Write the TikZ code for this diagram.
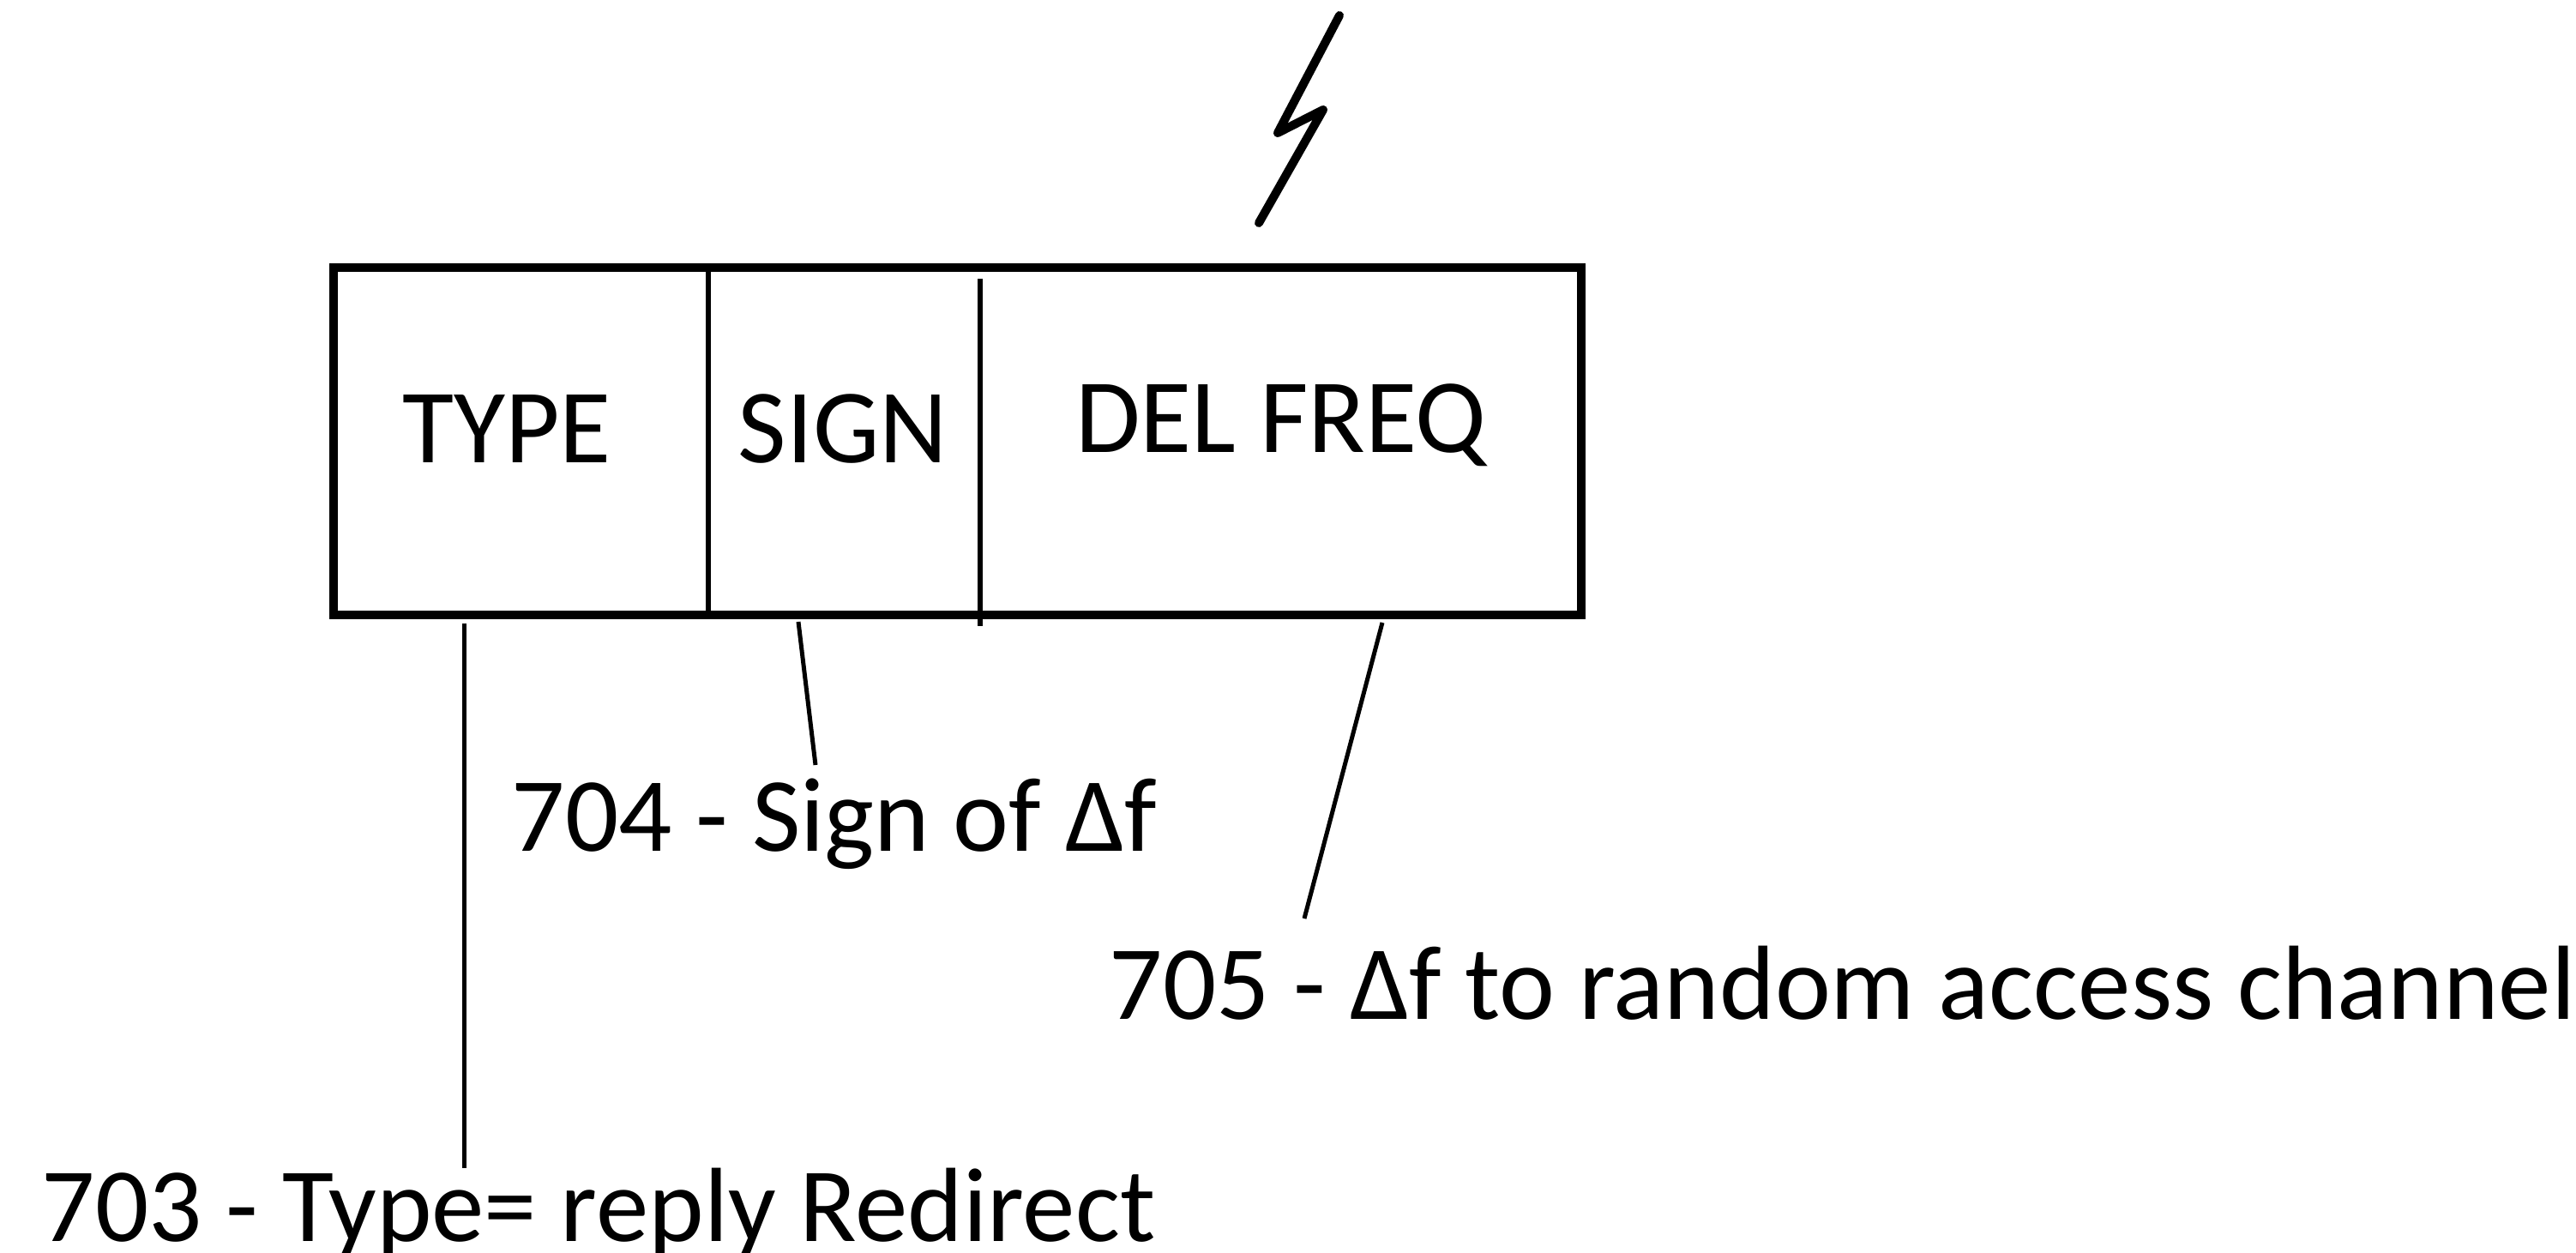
\documentclass[tikz,border=0pt]{standalone}
\usepackage{fontspec}
\setmainfont{Carlito}
\usetikzlibrary{shapes,arrows}

\begin{document}
\begin{tikzpicture}[lbl/.style={font=\fontsize{35}{41}\selectfont, inner sep=0pt},
		lead/.style={line width=0.5mm},
		divide/.style={line width=0.65mm}]
		\useasboundingbox (0,0) rectangle (30.04,14.60);
		\node [draw, line width=1mm, minimum width=14.55cm, minimum height=4.05cm, inner sep=0pt] (frame) at (11.165,9.455) {};
		\draw [divide] (8.26,0 |- frame.north) -- (8.26,0 |- frame.south);
		\draw [divide] (11.43,11.35) -- (11.43,7.30);
		\node [lbl, anchor=base] (type) at (5.91,9.20) {TYPE};
		\node [lbl, anchor=base] (sign) at (9.83,9.20) {SIGN};
		\node [lbl, anchor=base] (delfreq) at (14.94,9.32) {DEL FREQ};
		\draw [line width=1mm, line join=round, line cap=round] (15.62,14.42) -- (14.90,13.05) -- (15.43,13.32) -- (14.68,12.00);
		\node [lbl, anchor=base west] (signlbl) at (5.96,4.67) {704 - Sign of Δf};
		\node [lbl, anchor=base west] (freqlbl) at (12.93,2.72) {705 - Δf to random access channel};
		\node [lbl, anchor=base west] (typelbl) at (0.48,0.13) {703 - Type= reply Redirect};
		\coordinate (typetop) at (5.41,7.33);
		\coordinate (typeend) at (5.41,0.98);
		\coordinate (signtop) at (9.31,7.35);
		\coordinate (signend) at (9.51,5.68);
		\coordinate (freqtop) at (16.12,7.34);
		\coordinate (freqend) at (15.21,3.89);
		\draw [lead] (typetop) -- (typeend);
		\draw [lead] (signtop) -- (signend);
		\draw [lead] (freqtop) -- (freqend);
\end{tikzpicture}
\end{document}
